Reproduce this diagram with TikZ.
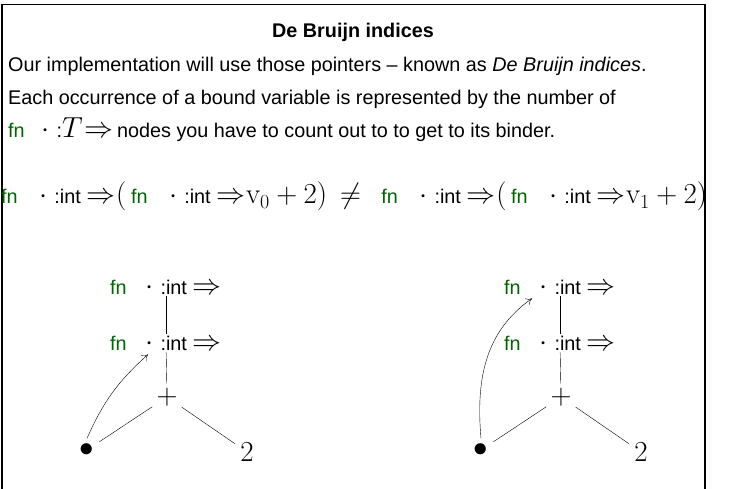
\RequirePackage{fix-cm}
\documentclass[tikz,border=0pt]{standalone}
\usepackage{amsmath}
\usepackage{amssymb}
\usepackage[no-math]{fontspec}
\setmainfont{Liberation Sans}
\usepackage{tikz}
\usetikzlibrary{arrows.meta}
\DeclareMathSizes{19.8}{29}{20}{15}

\definecolor{fngreen}{RGB}{0,100,0}
\newcommand{\fnkw}{\textcolor{fngreen}{fn}}
\newcommand{\bgap}{0.3em}
\newcommand{\cgap}{0.35em}
\newcommand{\binder}[2][1.1em]{\fnkw\hspace{#1}$\cdot$\hspace{\cgap}:#2\hspace{\bgap}$\Rightarrow$}

\begin{document}
\begin{tikzpicture}[x=1pt,y=-1pt,font=\fontsize{19.8}{24}\selectfont,
		tnode/.style={inner sep=2pt},
		edge/.style={thin},
		ptr/.style={thin,-{To[length=6pt,width=8pt]}}]
	\useasboundingbox (0,0) rectangle (730,489);
	% frame
	\draw[line width=1.2pt] (2,489) -- (2,4.5) -- (705,4.5) -- (705,489);
	\node[anchor=base,font=\fontsize{19.8}{24}\selectfont\bfseries] (title) at (353,38) {De Bruijn indices};
	\node[anchor=base west,inner sep=0] (txta) at (8,72) {Our implementation will use those pointers -- known as \textit{De Bruijn indices}.};
	\node[anchor=base west,inner sep=0] (txtb) at (8,105) {Each occurrence of a bound variable is represented by the number of};
	\node[anchor=base west,inner sep=0] (txtc) at (8,138) {{\def\bgap{0.1em}\binder[0.85em]{$T$}}\hspace{-0.1em} nodes you have to count out to to get to its binder.};
	\node[anchor=base west,inner sep=0] (eqn) at (1,204) {\binder{int}\hspace{0.02em}$($\hspace{0.23em}\binder{int}\hspace{0.02em}$\mathrm{v}_0+2)$\hspace{0.65em}$\neq$\hspace{1.03em}\binder{int}\hspace{0.02em}$($\hspace{0.23em}\binder{int}\hspace{0.02em}$\mathrm{v}_1+2)$};
	% the two trees
	\foreach \dx/\k/\tgt/\sx in {0/l/2/-18,394/r/1/-28}{
		\node[tnode] (\k1) at (166+\dx,287) {\binder[0.96em]{int}};
		\node[tnode] (\k2) at (166+\dx,343) {\binder[0.96em]{int}};
		\node[tnode,inner sep=4pt] (\k p) at (167+\dx,397) {$+$};
		\node[tnode,inner sep=5pt] (\k v) at (87+\dx,450) {$\bullet$};
		\node[tnode,inner sep=5pt] (\k n) at (247+\dx,452) {$2$};
		\draw[edge] (\k1) -- (\k2);
		\draw[edge] (\k2) -- (\k p);
		\draw[edge] (\k p) -- (\k v);
		\draw[edge] (\k p) -- (\k n);
		\coordinate (\k d) at ([xshift=\sx pt,yshift=-2pt]\k\tgt.south);
	}
	\draw[ptr] (lv.north) to[bend left=12] (ld);
	\draw[ptr] (rv.north) to[out=95,in=215] (rd);
\end{tikzpicture}
\end{document}
